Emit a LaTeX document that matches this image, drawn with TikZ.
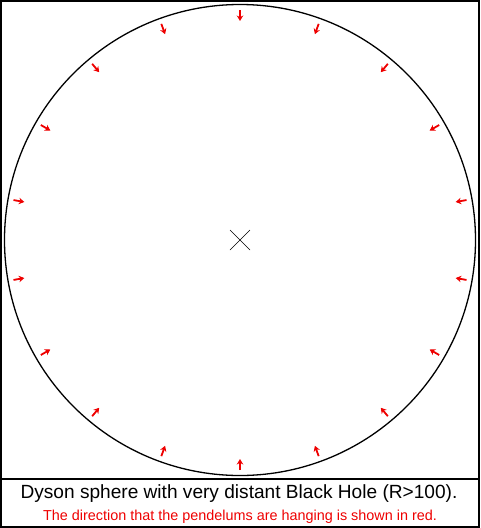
\documentclass[tikz,border=0pt]{standalone}
\usepackage{fontspec}
\setmainfont{Liberation Sans}
\usetikzlibrary{arrows.meta}
\definecolor{pendred}{HTML}{EE0000}

\tikzset{
  pendulum/.style = {pendred, line width = 1.8pt, -{Stealth[length = 5.5pt, width = 6.5pt]}},
  frameline/.style = {line width = 2pt}
}

\begin{document}
\begin{tikzpicture}[x = 1pt, y = -1pt]
\useasboundingbox (0,0) rectangle (480,528);
\draw[frameline] (1,1) rectangle (479,527);
\draw[frameline] (0,479) -- (480,479);

% sphere
\coordinate (bh) at (240,240);
\draw[line width = 1.3pt] (bh) circle (235.5);
\draw[line width = 0.6pt] (230,230) -- (250,250) (230,250) -- (250,230);

% pendulums
\foreach \a in {90, 110, ..., 430}
	\draw[pendulum] (bh) ++(\a:230) -- ++(\a:-11);

% caption
\node[font = \fontsize{19.1}{22}\selectfont] (title) at (239,494) {Dyson sphere with very distant Black Hole (R>100).};
\node[pendred, font = \fontsize{14.4}{16}\selectfont] (note) at (240,517) {The direction that the pendelums are hanging is shown in red.};
\end{tikzpicture}
\end{document}
